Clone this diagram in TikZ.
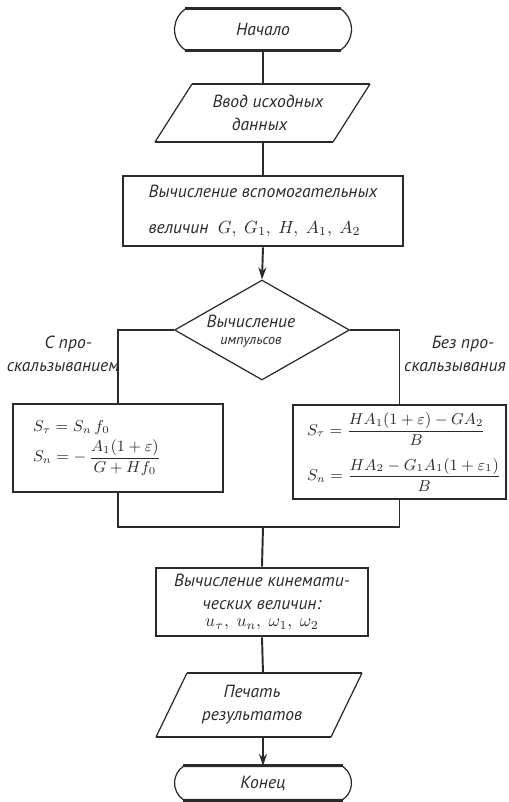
\documentclass[tikz,border=0pt]{standalone}
\usepackage{fontspec}
\setmainfont{PT Sans}
\usetikzlibrary{arrows.meta, shapes.geometric, shapes.misc}

\begin{document}
\begin{tikzpicture}[
    x=0.02cm, y=-0.02cm,
    every node/.style={font=\fontsize{10}{12}\selectfont\itshape, text=ink},
]

% ---------------------------------------------------------------- colours
\definecolor{ink}{HTML}{2A2A2A}   % every line and every word

% ================================================================
% Geometry, in pixels of the 508 x 802 sheet (y runs downwards).
%
%   main axis x = 263
%   start terminal    y  9 .. 50
%   input slab        y 84 .. 142, slanted 37 to the left at the foot
%   auxiliary box     123..403 x 176..246
%   decision diamond  centre (262,330), 175 x 100
%   branch boxes      left 13..223, right 293..506, tops at 404
%   merge line        y = 527
%   kinematics box    156..368 x 568..636
%   output slab       y 673 .. 737
%   end terminal      y 767 .. 800
% ================================================================

\useasboundingbox (0,0) rectangle (508,802);

\tikzset{
    terminal/.style={
        rounded rectangle, rounded rectangle arc length=110,
        draw=ink, line width=0.7pt,
        minimum width=3.54cm, minimum height=0.82cm,
        inner sep=0pt,
    },
    procbox/.style={
        rectangle, draw=ink, line width=1.6pt, inner sep=0pt,
    },
    formulabox/.style={
        procbox, align=left,
        font=\fontsize{9}{11}\selectfont,
    },
    decision/.style={
        diamond, draw=ink, line width=0.7pt,
        minimum width=3.5cm, minimum height=2cm,
        inner sep=0pt,
    },
    thickedge/.style={draw=ink, line width=1.6pt},
    thinedge/.style={draw=ink, line width=0.7pt},
    conn/.style={draw=ink, line width=1.1pt},
    arr/.style={conn, -{Stealth[length=2.4mm, width=1.6mm]}},
    branchlab/.style={align=center, inner sep=0pt},
}

% ================================================================ start
\node[terminal] (start) at (263,29.5) {Начало};
\draw[thickedge] (start.north west) -- (start.north east);
\draw[thickedge] (start.south west) -- (start.south east);

% ================================================================ input
\coordinate (inp-tl) at (192,84);
\coordinate (inp-tr) at (370,84);
\coordinate (inp-br) at (333,142);
\coordinate (inp-bl) at (155,142);
\coordinate (inp-t) at (263,84);
\coordinate (inp-b) at (263,142);
\draw[thinedge] (inp-bl) -- (inp-tl);
\draw[thinedge] (inp-br) -- (inp-tr);
\draw[thickedge] (inp-tl) -- (inp-tr);
\draw[thickedge] (inp-bl) -- (inp-br);
\node[align=left] (inp) at (268,113) {Ввод исходных\\[1pt]\hspace*{1.1em}данных};

% ================================================================ auxiliary values
\node[procbox, minimum width=5.6cm, minimum height=1.4cm,
      align=left, font=\fontsize{10}{20}\selectfont\itshape]
    (calc) at (263,211)
    {Вычисление вспомогательных\\величин\ \ $G,\ G_1,\ H,\ A_1,\ A_2$};

% ================================================================ decision
\node[decision] (dec) at (262,330) {};
\node[align=center] (dectxt) at (251,331)
    {Вычисление\\[-2pt]{\fontsize{8}{9}\selectfont импульсов}};

\node[branchlab] (lablft) at (63,354) {\hspace*{0.6em}С про-\\[1pt]скальзыванием};
\node[branchlab] (labrgt) at (455,354) {\hspace*{0.9em}Без про-\\[1pt]скальзывания};

% ================================================================ branch boxes
\node[formulabox, minimum width=4.2cm, minimum height=1.76cm,
      text width=3.4cm]
    (lbox) at (118,448)
    {\mbox{$S_\tau = S_n\, f_0$}\\[2pt]
     \mbox{$S_n = -\,\displaystyle\frac{A_1(1+\varepsilon)}{G+Hf_0}$}};

\node[formulabox, minimum width=4.26cm, minimum height=1.88cm,
      text width=3.7cm]
    (rbox) at (399.5,452)
    {\mbox{$S_\tau = \displaystyle\frac{HA_1(1+\varepsilon)-GA_2}{B}$}\\[6pt]
     \mbox{$S_n = \displaystyle\frac{HA_2-G_1A_1(1+\varepsilon_1)}{B}$}};

\coordinate (join) at (263,527);

% ================================================================ kinematics
\node[procbox, minimum width=4.24cm, minimum height=1.36cm, align=center]
    (kin) at (262,602)
    {Вычисление кинемати-\\[1pt]ческих величин:\\[-2pt]$u_\tau,\ u_n,\ \omega_1,\ \omega_2$};

% ================================================================ output
\coordinate (out-tl) at (187,673);
\coordinate (out-tr) at (362,673);
\coordinate (out-br) at (331,737);
\coordinate (out-bl) at (156,737);
\coordinate (out-t) at (263,673);
\coordinate (out-b) at (263,737);
\draw[thinedge] (out-bl) -- (out-tl);
\draw[thinedge] (out-br) -- (out-tr);
\draw[thickedge] (out-tl) -- (out-tr);
\draw[thickedge] (out-bl) -- (out-br);
\node[align=center] (out) at (252,705) {Печать\\[1pt]результатов};

% ================================================================ end
\node[terminal, minimum height=0.66cm] (end) at (263,783) {Конец};
\draw[thickedge] (end.north west) -- (end.north east);
\draw[thickedge] (end.south west) -- (end.south east);

% ================================================================ connectors
\draw[conn] (start.south) -- (inp-t);
\draw[conn] (inp-b) -- (calc.north);
\draw[arr]  (calc.south) -- (dec.north);
\draw[conn] (dec.west) -| (lbox.north);
\draw[thinedge] (dec.east) -| (rbox.north);
\draw[conn] (lbox.south) |- (join) -| (rbox.south);
\draw[conn] (join) -- (kin.north);
\draw[conn] (kin.south) -- (out-t);
\draw[arr]  (out-b) -- (end.north);

\end{tikzpicture}
\end{document}
